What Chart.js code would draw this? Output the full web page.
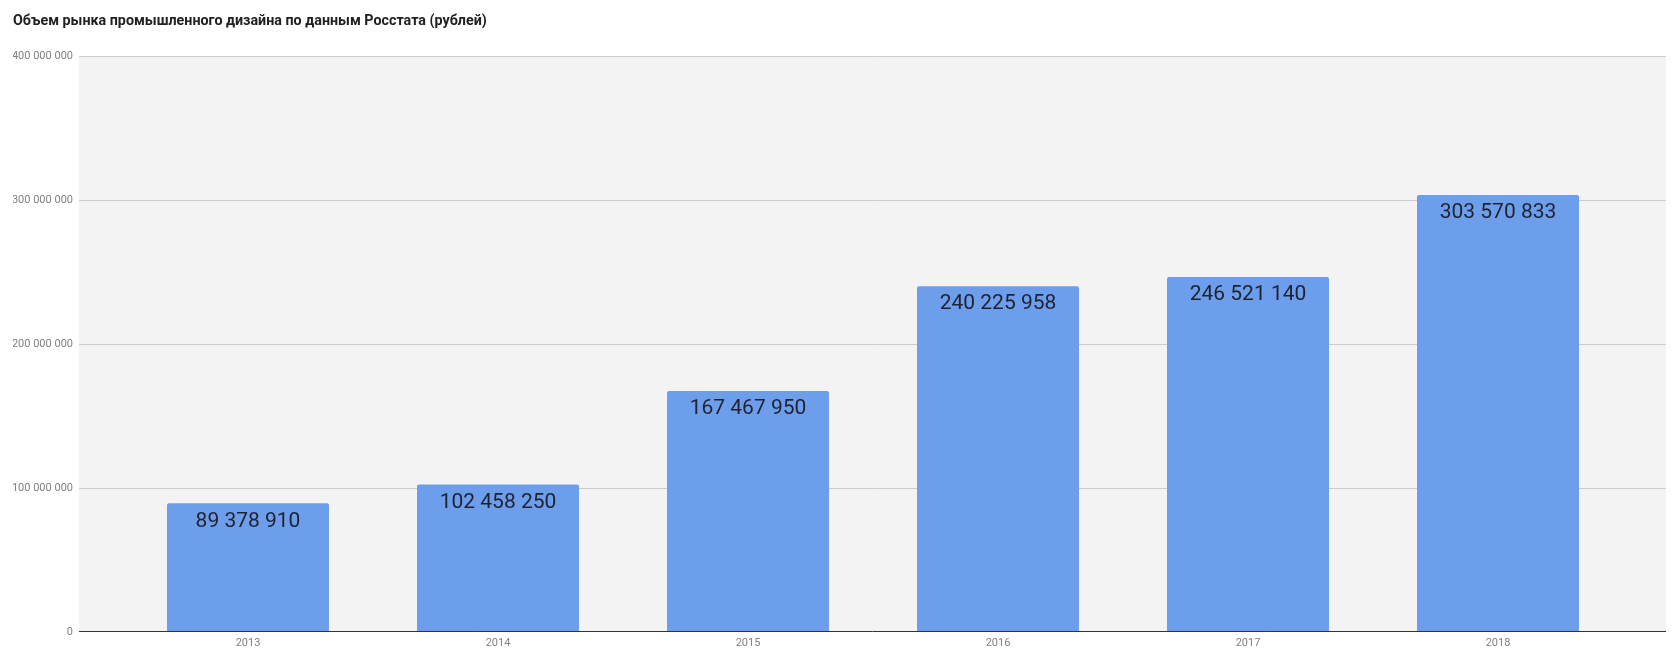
<!DOCTYPE html>
<html>
<head>
<meta charset="utf-8">
<script src="https://cdn.jsdelivr.net/npm/chart.js@4/dist/chart.umd.min.js"></script>
<style>
    html, body { margin: 0; padding: 0; background: #fff; overflow: hidden; }
    canvas { display: block; }
</style>
</head>
<body>
<canvas id="marketChart" width="1680" height="660"></canvas>
<script>
// Chart data
const years = ['2013', '2014', '2015', '2016', '2017', '2018'];
const volumes = [89378910, 102458250, 167467950, 240225958, 246521140, 303570833];
const yTicks = [0, 100000000, 200000000, 300000000, 400000000];

const chartTitle = 'Объем рынка промышленного дизайна по данным Росстата (рублей)';

// Format number with spaces: 89 378 910
function formatNum(v) {
    return String(Math.round(v)).replace(/\B(?=(\d{3})+(?!\d))/g, ' ');
}

// Plot background + gridlines, wider than the bar area
const EXT_L = 44;
const EXT_R = 43;

const plotBackground = {
    id: 'plotBackground',
    beforeDatasetsDraw(chart) {
        const { ctx, chartArea, scales } = chart;
        const left = chartArea.left - EXT_L;
        const right = chartArea.right + EXT_R;
        ctx.save();
        ctx.fillStyle = '#f3f3f3';
        ctx.fillRect(left, chartArea.top, right - left, chartArea.bottom - chartArea.top);

        ctx.strokeStyle = '#cccccc';
        ctx.lineWidth = 1;
        scales.y.ticks.forEach(t => {
            if (t.value === 0) return;
            const y = Math.round(scales.y.getPixelForValue(t.value)) + 0.5;
            ctx.beginPath();
            ctx.moveTo(left, y);
            ctx.lineTo(right, y);
            ctx.stroke();
        });
        ctx.restore();
    },
    afterDatasetsDraw(chart) {
        const { ctx, chartArea, scales } = chart;
        const y = Math.round(scales.y.getPixelForValue(0)) - 0.5;
        ctx.save();
        ctx.strokeStyle = '#333333';
        ctx.lineWidth = 1;
        ctx.beginPath();
        ctx.moveTo(chartArea.left - EXT_L, y);
        ctx.lineTo(chartArea.right + EXT_R, y);
        ctx.stroke();
        ctx.restore();
    }
};

// Value labels inside the top of each bar
const barLabels = {
    id: 'barLabels',
    afterDatasetsDraw(chart) {
        const { ctx } = chart;
        const meta = chart.getDatasetMeta(0);
        ctx.save();
        ctx.font = '21px Roboto';
        ctx.fillStyle = '#1f2230';
        ctx.textAlign = 'center';
        ctx.textBaseline = 'middle';
        meta.data.forEach((bar, i) => {
            ctx.fillText(formatNum(volumes[i]), bar.x, bar.y + 18);
        });
        ctx.restore();
    }
};

const ctx = document.getElementById('marketChart').getContext('2d');

new Chart(ctx, {
    type: 'bar',
    data: {
        labels: years,
        datasets: [{
            data: volumes,
            backgroundColor: '#6d9eeb',
            borderWidth: 0,
            borderRadius: { topLeft: 2, topRight: 2 },
            borderSkipped: 'bottom',
            barPercentage: 0.648,
            categoryPercentage: 1
        }]
    },
    options: {
        responsive: false,
        animation: false,
        devicePixelRatio: 1,
        layout: {
            padding: { left: 13, right: 57, top: 0, bottom: 0 }
        },
        plugins: {
            legend: { display: false },
            tooltip: { enabled: false },
            title: {
                display: true,
                text: chartTitle,
                align: 'start',
                color: '#212121',
                font: { family: 'Roboto', size: 14.3, weight: 'bold' },
                padding: { top: 13, bottom: 26 }
            }
        },
        scales: {
            x: {
                grid: { display: false, drawTicks: false },
                border: { display: false },
                ticks: {
                    color: '#808080',
                    font: { family: 'Roboto', size: 11 },
                    padding: 5
                },
                afterFit: s => { s.height = 28; }
            },
            y: {
                min: 0,
                max: 400000000,
                grid: { display: false, drawTicks: false },
                border: { display: false },
                afterBuildTicks: s => { s.ticks = yTicks.map(v => ({ value: v })); },
                ticks: {
                    color: '#808080',
                    font: { family: 'Roboto', size: 11 },
                    padding: 50,
                    callback: v => formatNum(v)
                },
                afterFit: s => {
                    s.width = 110;
                    // tick padding is only meant horizontally here
                    s.paddingTop = 7;
                    s.paddingBottom = 7;
                }
            }
        }
    },
    plugins: [plotBackground, barLabels]
});
</script>
</body>
</html>
